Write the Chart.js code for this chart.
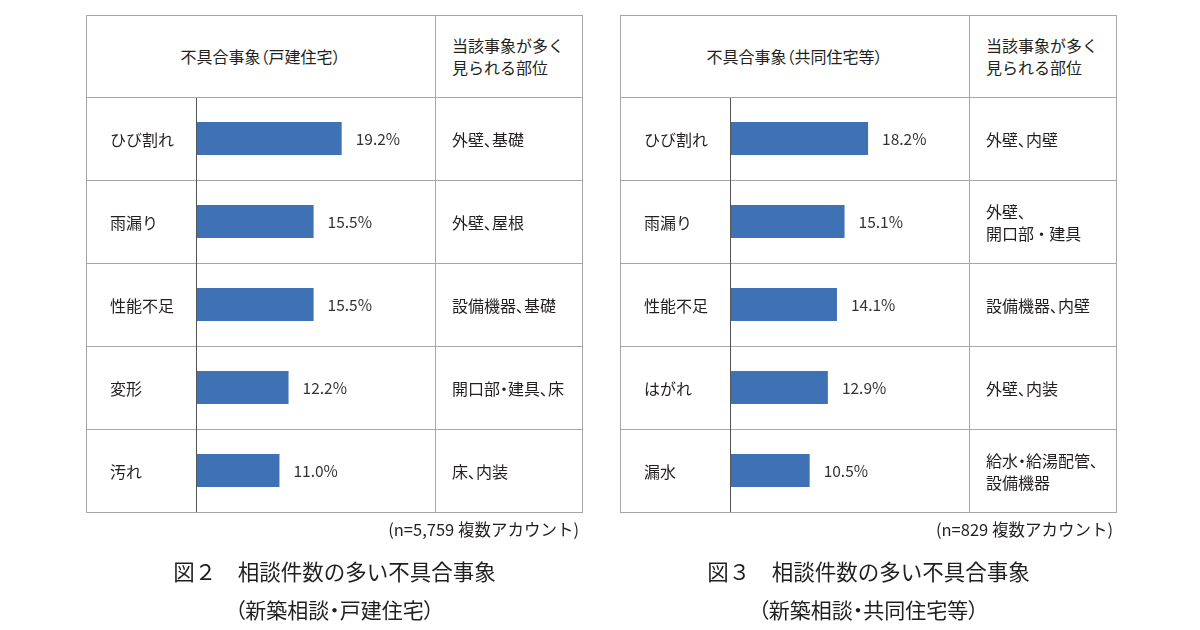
<!DOCTYPE html>
<html>
<head>
<meta charset="utf-8">
<script src="https://cdn.jsdelivr.net/npm/chart.js"></script>
<style>
  body { margin: 0; background: #fff; width: 1200px; height: 630px; overflow: hidden;
         font-family: "Noto Sans CJK JP", "Noto Sans", sans-serif; color: #231f20; }
  .panel { position: absolute; top: 15px; width: 497px; height: 498px; }
  .frame { position: absolute; left: 0; top: 0; width: 497px; height: 498px; box-sizing: border-box;
           border: 1px solid #a6a6a6; pointer-events: none; }
  .hline { position: absolute; left: 0; top: 82px; width: 497px; height: 1px; background: #a6a6a6; }
  .vline { position: absolute; left: 349px; top: 0; width: 1px; height: 498px; background: #a6a6a6; }
  .panel canvas { position: absolute; left: 0; top: 82px; }
  .head1 { position: absolute; left: 0; top: 0; width: 349px; height: 82px; display: flex;
           align-items: center; justify-content: center; font-size: 16px; font-feature-settings: "palt"; }
  .head2 { position: absolute; left: 366px; top: 0; height: 82px; display: flex; flex-direction: column;
           justify-content: center; font-size: 16px; line-height: 22px; }
  .cat { position: absolute; left: 24px; transform: translateY(-50%); font-size: 16px; white-space: nowrap; }
  .part { position: absolute; left: 366px; transform: translateY(-50%); font-size: 16px; line-height: 22px;
          white-space: pre; font-feature-settings: "palt"; }
  .note { position: absolute; right: 4px; top: 503px; font-size: 16.5px; line-height: 22px; white-space: nowrap; }
  .title { position: absolute; left: 0; width: 497px; text-align: center; font-size: 21.5px; line-height: 28px;
           white-space: nowrap; color: #1f1f1f; }
  .sub { font-feature-settings: "palt"; font-size: 21px; }
</style>
</head>
<body>
<script>
// 図2 戸建住宅
const houseCategories = ['ひび割れ', '雨漏り', '性能不足', '変形', '汚れ'];
const houseValues = [19.2, 15.5, 15.5, 12.2, 11.0];
const houseParts = ['外壁、基礎', '外壁、屋根', '設備機器、基礎', '開口部・建具、床', '床、内装'];

// 図3 共同住宅等
const condoCategories = ['ひび割れ', '雨漏り', '性能不足', 'はがれ', '漏水'];
const condoValues = [18.2, 15.1, 14.1, 12.9, 10.5];
const condoParts = ['外壁、内壁', '外壁、\n開口部 ・ 建具', '設備機器、内壁', '外壁、内装', '給水・給湯配管、\n設備機器'];

const panels = [
  { left: 86, cats: houseCategories, vals: houseValues, parts: houseParts,
    header: '不具合事象（戸建住宅）', note: '(n=5,759 複数アカウント)',
    title: '図２　相談件数の多い不具合事象', sub: '（新築相談・戸建住宅）' },
  { left: 620, cats: condoCategories, vals: condoValues, parts: condoParts,
    header: '不具合事象（共同住宅等）', note: '(n=829 複数アカウント)',
    title: '図３　相談件数の多い不具合事象', sub: '（新築相談・共同住宅等）' }
];

// row lines, bar column edge and the % labels
const tablePlugin = {
  id: 'tableLines',
  afterDatasetsDraw(chart) {
    const ctx = chart.ctx, y = chart.scales.y, area = chart.chartArea;
    const n = chart.data.labels.length;
    ctx.save();
    ctx.strokeStyle = '#a6a6a6';
    ctx.lineWidth = 1;
    for (let i = 0; i < n - 1; i++) {
      const yy = Math.round((y.getPixelForValue(i) + y.getPixelForValue(i + 1)) / 2) + 0.5;
      ctx.beginPath();
      ctx.moveTo(0, yy);
      ctx.lineTo(chart.width, yy);
      ctx.stroke();
    }
    ctx.strokeStyle = '#555';
    ctx.beginPath();
    ctx.moveTo(area.left + 0.5, 0);
    ctx.lineTo(area.left + 0.5, chart.height);
    ctx.stroke();

    ctx.fillStyle = '#333';
    ctx.font = '15.5px "Noto Sans CJK JP", "Noto Sans", sans-serif';
    ctx.textBaseline = 'middle';
    chart.getDatasetMeta(0).data.forEach((bar, i) => {
      ctx.fillText(chart.data.datasets[0].data[i].toFixed(1) + '%', bar.x + 14, bar.y + 1);
    });
    ctx.restore();
  }
};

panels.forEach(p => {
  const box = document.createElement('div');
  box.className = 'panel';
  box.style.left = p.left + 'px';
  box.innerHTML =
    '<div class="head1">' + p.header + '</div>' +
    '<div class="head2"><div>当該事象が多く</div><div>見られる部位</div></div>' +
    '<canvas width="497" height="415"></canvas>' +
    '<div class="hline"></div><div class="vline"></div><div class="frame"></div>' +
    '<div class="note">' + p.note + '</div>' +
    '<div class="title" style="top:542px">' + p.title + '</div>' +
    '<div class="title sub" style="top:580px">' + p.sub + '</div>';
  document.body.appendChild(box);

  const chart = new Chart(box.querySelector('canvas'), {
    type: 'bar',
    data: {
      labels: p.cats,
      datasets: [{
        data: p.vals,
        backgroundColor: '#3f72b5',
        barPercentage: 0.4,
        categoryPercentage: 1
      }]
    },
    options: {
      indexAxis: 'y',
      responsive: false,
      animation: false,
      layout: { padding: { left: 110, right: 148, top: 0, bottom: 0 } },
      plugins: { legend: { display: false }, tooltip: { enabled: false } },
      scales: {
        x: { display: false, min: 0, max: 31.5 },
        y: { display: false }
      }
    },
    plugins: [tablePlugin]
  });

  // category names and parts text placed at the category scale positions
  p.cats.forEach((c, i) => {
    const yy = chart.scales.y.getPixelForValue(i) + 82;
    const a = document.createElement('div');
    a.className = 'cat';
    a.style.top = yy + 'px';
    a.textContent = c;
    box.appendChild(a);
    const b = document.createElement('div');
    b.className = 'part';
    b.style.top = yy + 'px';
    b.textContent = p.parts[i];
    box.appendChild(b);
  });
});
</script>
</body>
</html>
